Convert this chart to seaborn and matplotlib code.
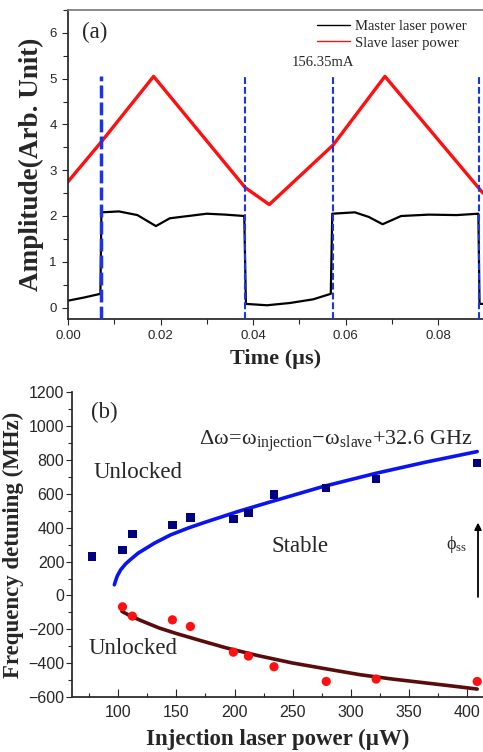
import matplotlib

matplotlib.use("Agg")
import matplotlib.pyplot as plt
import numpy as np
import pandas as pd
import seaborn as sns
from matplotlib.ticker import MultipleLocator

# ---- panel (a): oscilloscope traces (key points) ----
master_t = [0.0, 0.0035, 0.0070, 0.00722, 0.0110, 0.0150, 0.0190, 0.0220, 0.0260,
            0.0300, 0.0340, 0.0381, 0.03845, 0.0430, 0.0480, 0.0530, 0.0568,
            0.05712, 0.0620, 0.0650, 0.0680, 0.0720, 0.0780, 0.0840, 0.0887,
            0.08895, 0.0897]
master_amp = [0.15, 0.22, 0.30, 2.08, 2.10, 2.02, 1.78, 1.95, 2.00,
              2.05, 2.03, 2.00, 0.08, 0.05, 0.10, 0.18, 0.30,
              2.05, 2.08, 1.98, 1.82, 2.00, 2.03, 2.02, 2.05,
              0.08, 0.08]
slave_t = [0.0, 0.0072, 0.0185, 0.0383, 0.0435, 0.0573, 0.0685, 0.0897]
slave_amp = [2.75, 3.62, 5.05, 2.62, 2.25, 3.55, 5.05, 2.50]
marker_t = [0.0072, 0.0383, 0.0573, 0.0889]
marker_top = 5.06

# ---- panel (b): locking range ----
p_up = [77, 103.5, 112, 146.5, 162, 199, 212, 234, 279, 322, 409]
f_up = [230, 268, 362, 415, 460, 452, 488, 596, 633, 689, 781]
p_low = [103.5, 112, 146.5, 162, 199, 212, 234, 279, 322, 409]
f_low = [-67, -122, -144, -183, -335, -358, -421, -508, -494, -508]
curve_up_p = [96.5, 97.5, 99, 102, 106, 110, 117, 131, 145, 160, 174, 203,
              232, 247, 276, 322, 365, 409]
curve_up_f = [63, 85, 115, 152, 185, 210, 250, 309, 358, 398, 431, 496,
              555, 585, 643, 722, 788, 850]
curve_low_p = [103, 110, 120, 135, 150, 170, 193, 220, 250, 280, 308, 335,
               365, 390, 409]
curve_low_f = [-94, -120, -150, -192, -225, -265, -310, -355, -399, -435,
               -468, -493, -517, -537, -553]

sns.set_theme(style="ticks")
plt.rcParams["font.family"] = ["Liberation Sans", "DejaVu Sans"]
plt.rcParams["mathtext.fontset"] = "custom"
plt.rcParams["mathtext.rm"] = "Liberation Serif"
plt.rcParams["mathtext.it"] = "Liberation Serif"
plt.rcParams["mathtext.bf"] = "Liberation Serif:bold"
SERIF = ["Liberation Serif", "DejaVu Serif"]

fig = plt.figure(figsize=(4.83, 7.52), dpi=100)
ax1 = fig.add_axes([0.1408, 0.5758, 0.8592, 0.4109])
ax2 = fig.add_axes([0.1490, 0.0731, 0.8510, 0.4052])

# ---------------- (a) ----------------
slave_df = pd.DataFrame({"t": slave_t, "amp": slave_amp})
master_df = pd.DataFrame({"t": master_t, "amp": master_amp})
sns.lineplot(data=master_df, x="t", y="amp", ax=ax1, color="black", lw=1.6,
             sort=False, estimator=None, label="Master laser power")
sns.lineplot(data=slave_df, x="t", y="amp", ax=ax1, color="#ff1010", lw=2.4,
             sort=False, estimator=None, label="Slave laser power")
for i, t in enumerate(marker_t):
    lw, dash = (2.5, (3.7, 1.2)) if i == 0 else (1.5, (3.3, 1.4))
    ax1.plot([t, t], [-0.25, marker_top], color="#1a35e6", lw=lw,
             dashes=dash, zorder=5)

ax1.set_xlim(0, 0.0897)
ax1.set_ylim(-0.25, 6.5)
ax1.xaxis.set_major_locator(MultipleLocator(0.02))
ax1.xaxis.set_minor_locator(MultipleLocator(0.01))
ax1.yaxis.set_major_locator(MultipleLocator(1))
ax1.yaxis.set_minor_locator(MultipleLocator(0.5))
ax1.set_xticks([0, 0.02, 0.04, 0.06, 0.08])
ax1.set_xticklabels(["0.00", "0.02", "0.04", "0.06", "0.08"])
ax1.tick_params(which="both", direction="out", labelsize=9.5, width=0.8)
ax1.tick_params(which="major", length=4.5)
ax1.tick_params(which="minor", length=3.5)
ax1.spines["right"].set_visible(False)
ax1.spines["top"].set_color("#777777")
ax1.spines["top"].set_linewidth(1.2)
ax1.set_xlabel("Time (µs)", family=SERIF, fontweight="bold", fontsize=16,
               labelpad=5)
ax1.set_ylabel("Amplitude(Arb. Unit)", family=SERIF, fontweight="bold",
               fontsize=19.5, labelpad=4)
ax1.text(0.003, 6.02, "(a)", family=SERIF, fontsize=16.5, va="center")
ax1.text(0.0484, 5.36, "156.35mA", family=SERIF, fontsize=10.5, va="center")
leg = ax1.legend(loc="upper left", bbox_to_anchor=(0.575, 1.0), frameon=False,
                 prop={"family": SERIF, "size": 10.5}, handlelength=2.3,
                 handletextpad=0.3, labelspacing=0.2, borderpad=0.2)
for h in leg.get_lines():
    h.set_linewidth(1.0)

# ---------------- (b) ----------------
up_df = pd.DataFrame({"p": p_up, "f": f_up})
low_df = pd.DataFrame({"p": p_low, "f": f_low})
cu_df = pd.DataFrame({"p": curve_up_p, "f": curve_up_f})
cl_df = pd.DataFrame({"p": curve_low_p, "f": curve_low_f})
sns.lineplot(data=cu_df, x="p", y="f", ax=ax2, color="#0a14f0", lw=2.6,
             sort=False, estimator=None)
sns.lineplot(data=cl_df, x="p", y="f", ax=ax2, color="#5a0c0c", lw=2.6,
             sort=False, estimator=None)
sns.scatterplot(data=up_df, x="p", y="f", ax=ax2, marker="s", s=36,
                color="#000080", edgecolor="none", zorder=4)
sns.scatterplot(data=low_df, x="p", y="f", ax=ax2, marker="o", s=44,
                color="#ff1010", edgecolor="none", zorder=4)

ax2.set_xlim(60, 414)
ax2.set_ylim(-600, 1200)
ax2.xaxis.set_major_locator(MultipleLocator(50))
ax2.xaxis.set_minor_locator(MultipleLocator(25))
ax2.yaxis.set_major_locator(MultipleLocator(200))
ax2.yaxis.set_minor_locator(MultipleLocator(100))
ax2.tick_params(axis="x", which="both", direction="in", labelsize=11.5,
                width=0.8, pad=6)
ax2.tick_params(axis="y", which="both", direction="out", labelsize=11.5,
                width=0.8, pad=1.5)
ax2.tick_params(axis="x", which="major", length=5.5)
ax2.tick_params(axis="x", which="minor", length=3)
ax2.tick_params(axis="y", which="major", length=4)
ax2.tick_params(axis="y", which="minor", length=3)
ax2.spines["right"].set_visible(False)
ax2.spines["top"].set_visible(False)
ax2.set_xlabel("Injection laser power (µW)", family=SERIF, fontweight="bold",
               fontsize=16.5, labelpad=6)
ax2.set_ylabel("Frequency detuning (MHz)", family=SERIF, fontweight="bold",
               fontsize=16.5, labelpad=3)

ax2.text(76.4, 1084, "(b)", family=SERIF, fontsize=16.5, va="center")
ax2.text(169.7, 912,
         r"$\Delta\omega\!=\!\omega_{\mathrm{injection}}\!-\!\omega_{\mathrm{slave}}$+32.6 GHz",
         fontsize=16, va="center", family=SERIF)
ax2.text(78.2, 726, "Unlocked", family=SERIF, fontsize=16.5, va="center")
ax2.text(231.9, 289, "Stable", family=SERIF, fontsize=16.5, va="center")
ax2.text(73.9, -314, "Unlocked", family=SERIF, fontsize=16.5, va="center")
ax2.annotate("", xy=(409.7, 447), xytext=(409.7, -25),
             arrowprops=dict(arrowstyle="-|>", color="black", lw=1.3,
                             mutation_scale=10))
ax2.text(382, 299, r"$\phi_{\mathrm{ss}}$", fontsize=13, va="center")

fig.savefig("out.png", dpi=100)
